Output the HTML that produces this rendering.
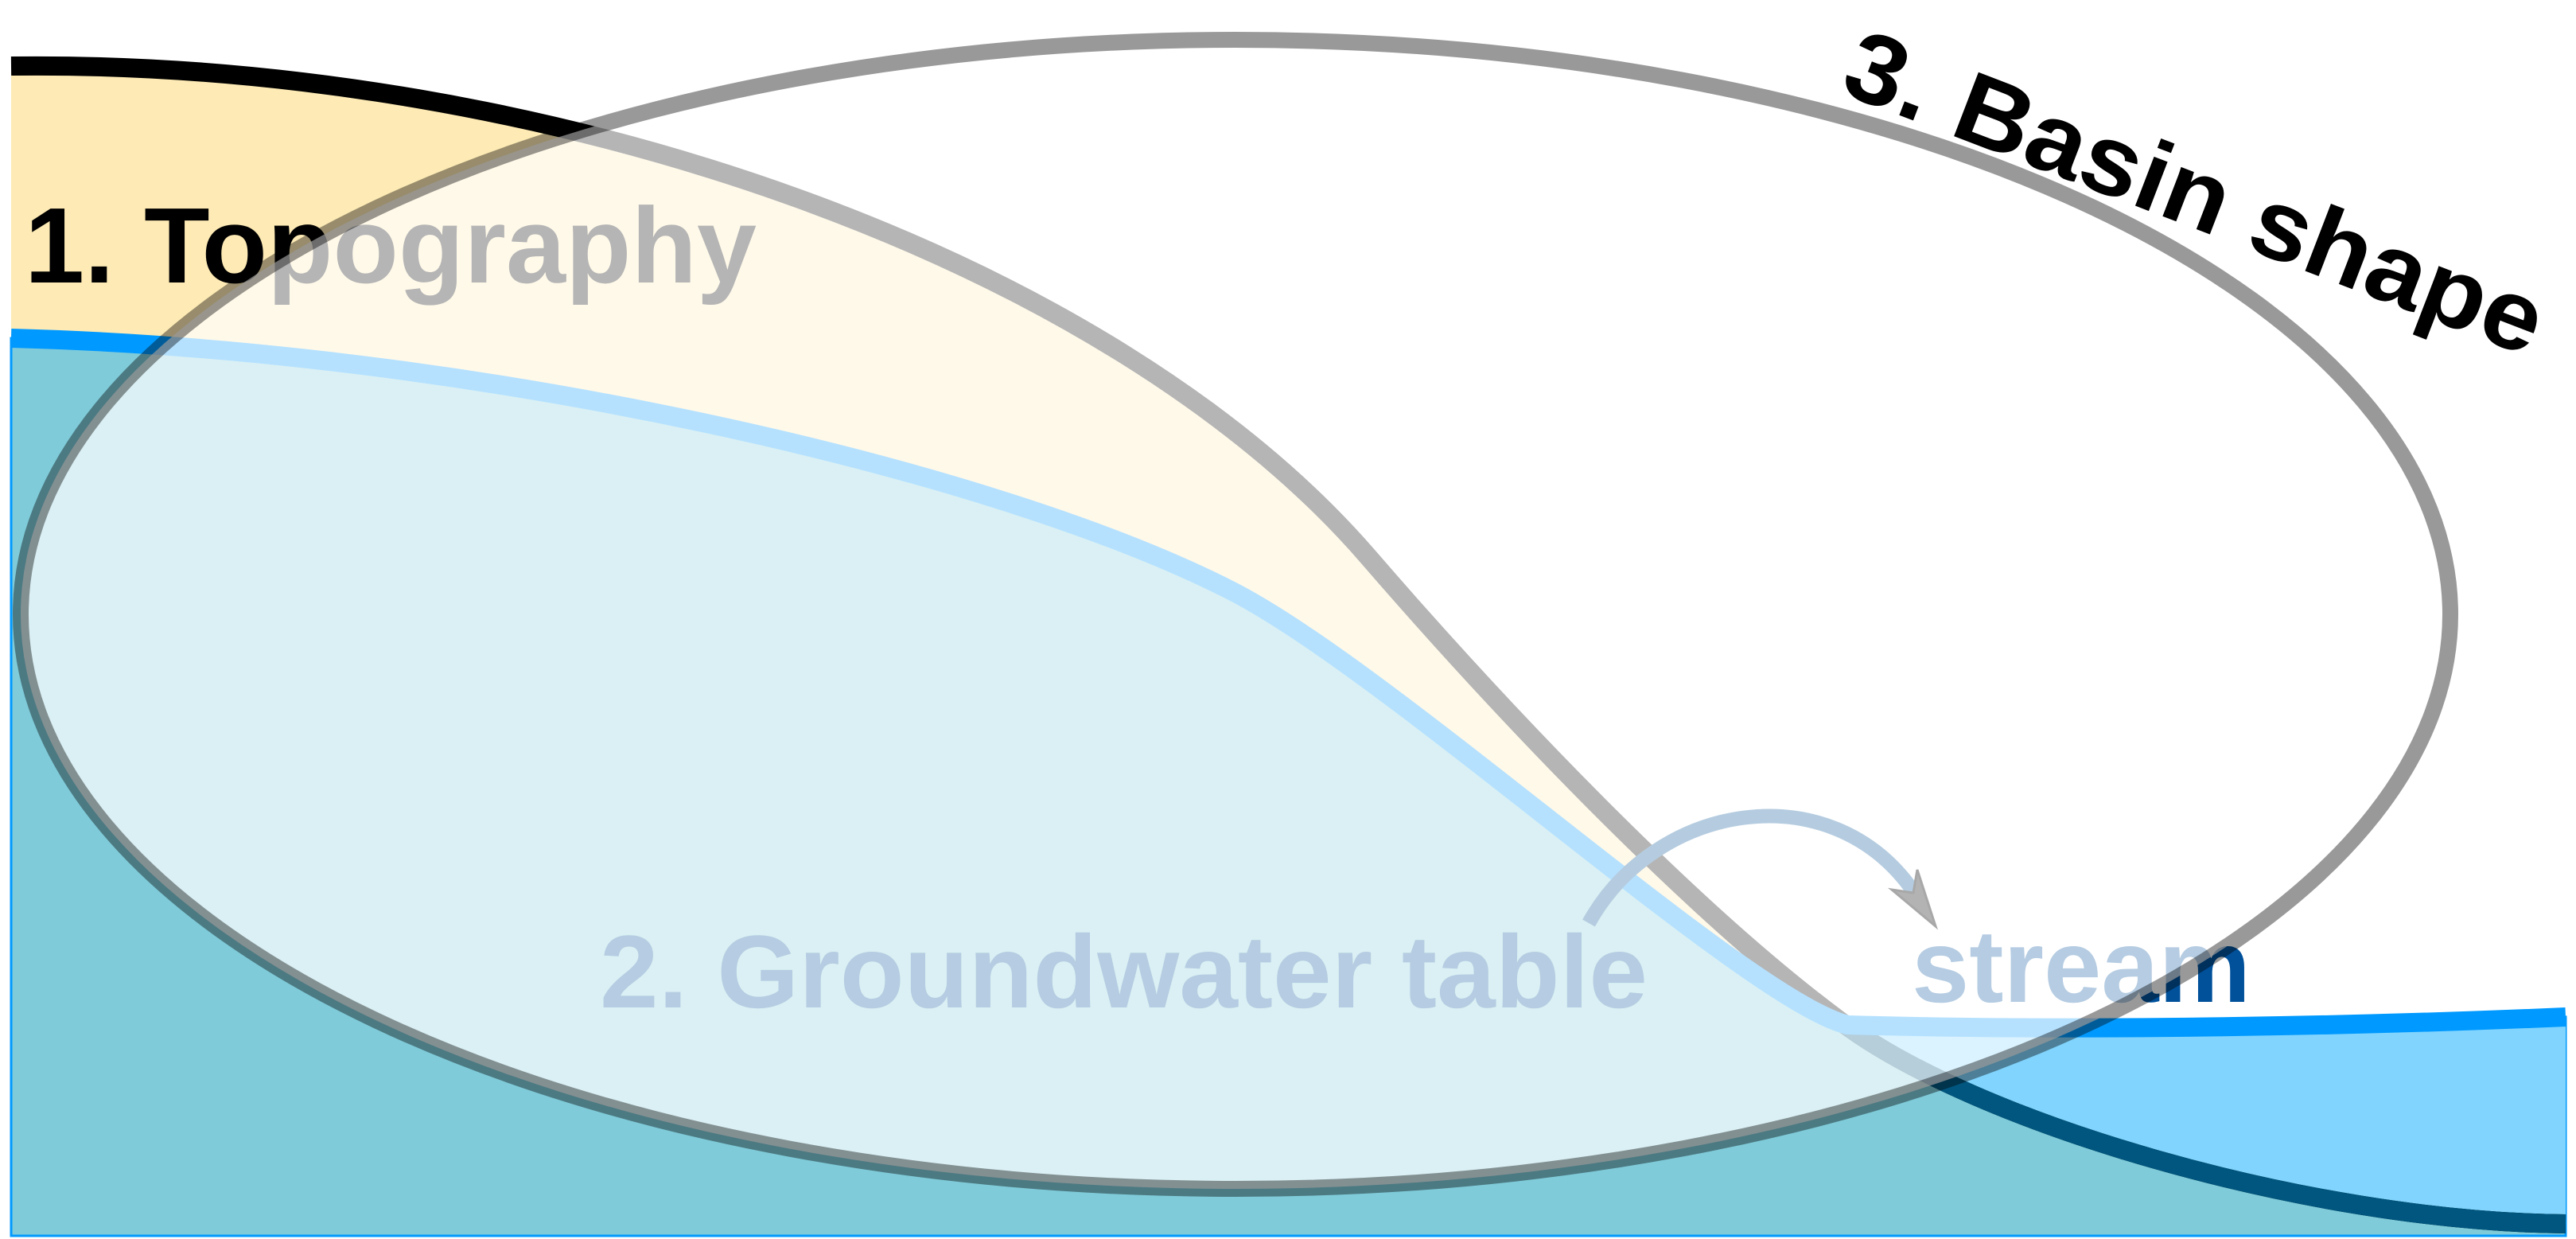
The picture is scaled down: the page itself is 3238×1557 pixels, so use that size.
<!DOCTYPE html>
<html><head><meta charset="utf-8"><style>
html,body{margin:0;padding:0;background:#fff;}
svg{display:block;}
text{font-family:"Liberation Sans",sans-serif;font-weight:bold;}
</style></head><body>
<svg id="fig" width="3238" height="1557" viewBox="0 0 3238 1557">
<defs><clipPath id="belowWater"><path id="belowWaterPath" d=""/></clipPath></defs>
<g id="scene"></g>
<text x="31" y="355" font-size="135" textLength="920" lengthAdjust="spacingAndGlyphs" fill="#000">1. Topography</text>
<text x="754" y="1266" font-size="130" textLength="1317" lengthAdjust="spacingAndGlyphs" fill="#00509a">2. Groundwater table</text>
<text x="2403" y="1259" font-size="130" textLength="426" lengthAdjust="spacingAndGlyphs" fill="#00509a">stream</text>
<ellipse cx="1553" cy="772" rx="1527" ry="722" fill="#fff" fill-opacity="0.71" stroke="#000" stroke-opacity="0.4" stroke-width="20"/>
<path d="M1997,1160 C2080,1010 2300,970 2405,1120" fill="none" stroke="#b5cce0" stroke-width="18"/>
<path d="M2410,1093 L2433,1164 L2378,1118 L2405,1122 Z" fill="#b3b3b3" stroke="#a8a8a8" stroke-width="3"/>
<text transform="translate(2310,115) rotate(21)" font-size="125" textLength="930" lengthAdjust="spacingAndGlyphs" fill="#000">3. Basin shape</text>
</svg>
<script>
// profiles as cubic bezier sequences: anchor, control, control, anchor, ...
const topoX = [14, 700, 1400, 1720, 1880, 2120, 2313, 2480, 2900, 3225];
const topoY = [83, 75, 330, 700, 885, 1140, 1283, 1410, 1535, 1538];
const waterX = [14, 600, 1250, 1549, 1749, 2200, 2323, 2600, 2950, 3225];
const waterY = [425, 440, 590, 743, 845, 1260, 1288, 1296, 1290, 1278];
const NS = 'http://www.w3.org/2000/svg';
function bez(xs, ys){
  let d = 'M' + xs[0] + ',' + ys[0];
  for (let i = 1; i + 2 < xs.length; i += 3){
    d += ' C' + xs[i] + ',' + ys[i] + ' ' + xs[i+1] + ',' + ys[i+1] + ' ' + xs[i+2] + ',' + ys[i+2];
  }
  return d;
}
const scene = document.getElementById('scene');
function add(d, attrs, name){
  const p = document.createElementNS(NS, 'path');
  p.setAttribute('d', d);
  for (const k in attrs) p.setAttribute(k, attrs[k]);
  
  
  scene.appendChild(p);
  return p;
}
const topoD = bez(topoX, topoY);
const waterD = bez(waterX, waterY);
document.getElementById('belowWaterPath').setAttribute('d', waterD + ' L3238,1557 L0,1557 L0,' + waterY[0] + ' Z');
add(topoD + ' L3225,1553 L14,1553 Z', {fill:'#fdeab4'}, 'topography-fill');
add(waterD + ' L3225,1553 L14,1553 Z', {fill:'#7fcbd9', stroke:'#0099ff', 'stroke-width':'3'}, 'groundwater-fill');
add(topoD + ' L3225,0 L14,0 Z', {fill:'#80d4fd', 'clip-path':'url(#belowWater)'}, 'stream-water-fill');
add(topoD, {fill:'none', stroke:'#000', 'stroke-width':'24'}, 'topography-line');
add(topoD, {fill:'none', stroke:'#00567f', 'stroke-width':'24', 'clip-path':'url(#belowWater)'}, 'submerged-topography-line');
add(waterD, {fill:'none', stroke:'#0099ff', 'stroke-width':'24'}, 'water-table-line');
</script>
</body></html>
